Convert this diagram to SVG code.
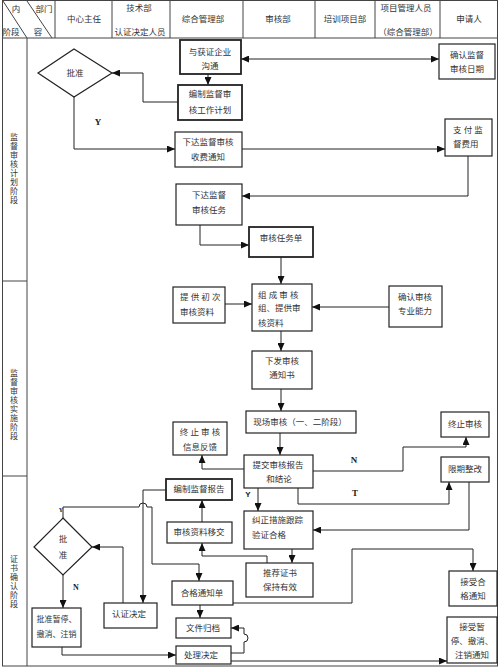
<svg xmlns="http://www.w3.org/2000/svg" width="500" height="669" viewBox="0 0 500 669">
<defs>
<marker id="ah" markerWidth="8" markerHeight="7" refX="8" refY="3.5" orient="auto-start-reverse" markerUnits="userSpaceOnUse">
<path d="M0,0 L8,3.5 L0,7 z" fill="#111"/>
</marker>
</defs>
<style>
text{font-family:"Liberation Serif","Noto Sans CJK SC",serif;font-size:8.5px;fill:#333;dominant-baseline:central}
.c{text-anchor:middle}
.box{fill:#fff;stroke:#222;stroke-width:1.2}
.thick{stroke-width:1.8}
.grid{stroke:#444;stroke-width:1;fill:none}
.ln{fill:none;stroke:#222;stroke-width:1}
.ar{marker-end:url(#ah)}
.lbl{font-weight:bold;font-size:9px;fill:#222}
.stage{font-size:8px;text-anchor:middle}
</style>
<rect width="500" height="669" fill="#fff"/>
<g id="table">
<rect class="grid" x="2.5" y="0.5" width="495" height="665.5"/>
<line class="grid" x1="2.5" y1="38" x2="497.5" y2="38"/>
<line class="grid" x1="55" y1="0.5" x2="55" y2="38"/>
<line class="grid" x1="112" y1="0.5" x2="112" y2="38"/>
<line class="grid" x1="170" y1="0.5" x2="170" y2="38"/>
<line class="grid" x1="243" y1="0.5" x2="243" y2="38"/>
<line class="grid" x1="315" y1="0.5" x2="315" y2="38"/>
<line class="grid" x1="375" y1="0.5" x2="375" y2="38"/>
<line class="grid" x1="440" y1="0.5" x2="440" y2="38"/>
<line class="grid" x1="3" y1="1" x2="27" y2="38"/>
<line class="grid" x1="27" y1="1" x2="52" y2="38"/>
<line class="grid" x1="27" y1="38" x2="27" y2="666"/>
<line class="grid" x1="2.5" y1="281" x2="27" y2="281"/>
<line class="grid" x1="2.5" y1="476" x2="27" y2="476"/>
<text class="c" x="16" y="9">内</text>
<text class="c" x="44" y="9">部门</text>
<text class="c" x="11" y="32">阶段</text>
<text class="c" x="38" y="32">容</text>
<text class="c" x="84" y="19">中心主任</text>
<text class="c" x="139" y="8">技术部</text>
<text class="c" x="140" y="32">认证决定人员</text>
<text class="c" x="203" y="19">综合管理部</text>
<text class="c" x="278" y="19">审核部</text>
<text class="c" x="345" y="19">培训项目部</text>
<text class="c" x="406" y="8">项目管理人员</text>
<text class="c" x="408" y="32">（综合管理部）</text>
<text class="c" x="469" y="19">申请人</text>
<text class="stage" x="14" y="137">监</text><text class="stage" x="14" y="146">督</text><text class="stage" x="14" y="155">审</text><text class="stage" x="14" y="164">核</text><text class="stage" x="14" y="173">计</text><text class="stage" x="14" y="182">划</text><text class="stage" x="14" y="191">阶</text><text class="stage" x="14" y="200">段</text>
<text class="stage" x="14" y="373">监</text><text class="stage" x="14" y="382">督</text><text class="stage" x="14" y="391">审</text><text class="stage" x="14" y="400">核</text><text class="stage" x="14" y="409">实</text><text class="stage" x="14" y="418">施</text><text class="stage" x="14" y="427">阶</text><text class="stage" x="14" y="436">段</text>
<text class="stage" x="14" y="559">证</text><text class="stage" x="14" y="568">书</text><text class="stage" x="14" y="577">确</text><text class="stage" x="14" y="586">认</text><text class="stage" x="14" y="595">阶</text><text class="stage" x="14" y="604">段</text>
</g>
<g id="connectors">
<path class="ln ar" style="marker-start:url(#ah)" d="M241,59 H439"/>
<path class="ln ar" d="M208,74 V85"/>
<path class="ln ar" d="M178,102 H143 V73 H112"/>
<path class="ln ar" d="M74,97 V149 H175"/>
<path class="ln ar" d="M242,149 H445"/>
<path class="ln ar" d="M468,156 V196 H242"/>
<path class="ln ar" d="M200,225 V245 H249"/>
<path class="ln ar" d="M281,257 V284"/>
<path class="ln ar" d="M225,304 H252"/>
<path class="ln ar" d="M389,307 H312"/>
<path class="ln ar" d="M281,331 V351"/>
<path class="ln ar" d="M281,389 V411"/>
<path class="ln ar" d="M280,433 V455"/>
<path class="ln ar" d="M244,469 H202 V455"/>
<path class="ln ar" d="M313,471 H403 V447 H466 V437"/>
<path class="ln ar" d="M298,488 V504 H449 V482"/>
<path class="ln ar" d="M469,482 V530 H313"/>
<path class="ln ar" d="M258,488 V511"/>
<path class="ln ar" d="M292,549 V563"/>
<path class="ln ar" d="M267,563 V556 H202 V543"/>
<path class="ln ar" d="M202,522 V500"/>
<path class="ln ar" d="M166,490 H143 V603"/>
<path class="ln ar" d="M63,518 V507 H139 A4,4 0 0 1 147,507 H152 V564 H199 V581"/>
<path class="ln ar" d="M123,603 V547 H92"/>
<path class="ln ar" d="M63,575 V608"/>
<path class="ln ar" d="M62,647 V655 H176"/>
<path class="ln ar" d="M200,605 V618"/>
<path class="ln ar" d="M231,653 H244 V642 A4,4 0 0 0 244,634 V628 H231"/>
<path class="ln ar" d="M231,661 H447"/>
<path class="ln ar" d="M233,603 H352 V549 H473 V571"/>
<text class="lbl" x="98" y="122" text-anchor="middle">Y</text>
<text class="lbl" x="354" y="460" text-anchor="middle">N</text>
<text class="lbl" x="355" y="493" text-anchor="middle">T</text>
<text class="lbl" x="248" y="494" text-anchor="middle" style="font-family:'Liberation Sans',sans-serif;font-size:8px">Y</text>
<text class="lbl" x="61" y="510" text-anchor="middle" style="font-size:6px">Y</text>
<text class="lbl" x="76" y="587" text-anchor="middle" style="font-size:8px">N</text>
</g>
<g id="n1"><rect class="box thick" x="180" y="40" width="61" height="34"/><text class="c" x="210" y="52">与获证企业</text><text class="c" x="210" y="66">沟通</text></g>
<g id="n2"><rect class="box" x="439" y="44" width="56" height="35"/><text class="c" x="467" y="55">确认监督</text><text class="c" x="467" y="69">审核日期</text></g>
<g id="n3"><rect class="box thick" x="178" y="85" width="64" height="35"/><text class="c" x="210" y="94">编制监督审</text><text class="c" x="210" y="110">核工作计划</text></g>
<g id="d1"><polygon class="box" points="74,49 112,73 74,97 38,73"/><text class="c" x="75" y="73">批准</text></g>
<g id="n4"><rect class="box" x="175" y="132" width="67" height="35"/><text class="c" x="208" y="142">下达监督审核</text><text class="c" x="208" y="157">收费通知</text></g>
<g id="n5"><rect class="box" x="445" y="119" width="47" height="37"/><text x="453" y="130">支 付 监</text><text x="453" y="144">督费用</text></g>
<g id="n6"><rect class="box" x="176" y="184" width="66" height="41"/><text class="c" x="209" y="195">下达监督</text><text class="c" x="209" y="210">审核任务</text></g>
<g id="n7"><rect class="box thick" x="249" y="227" width="64" height="30"/><text class="c" x="281" y="238">审核任务单</text></g>
<g id="n8"><rect class="box" x="252" y="284" width="60" height="47"/><text x="258" y="295">组 成 审 核</text><text x="258" y="308">组、提供审</text><text x="258" y="323">核资料</text></g>
<g id="n9"><rect class="box" x="173" y="287" width="52" height="36"/><text x="180" y="297">提 供 初 次</text><text x="180" y="312">审核资料</text></g>
<g id="n10"><rect class="box" x="389" y="286" width="53" height="41"/><text class="c" x="415" y="297">确认审核</text><text class="c" x="415" y="311">专业能力</text></g>
<g id="n11"><rect class="box" x="252" y="351" width="60" height="38"/><text class="c" x="282" y="361">下发审核</text><text class="c" x="282" y="375">通知书</text></g>
<g id="n12"><rect class="box" x="246" y="411" width="110" height="22"/><text class="c" x="300" y="422">现场审核（一、二阶段）</text></g>
<g id="n13"><rect class="box" x="244" y="455" width="69" height="33"/><text class="c" x="278" y="465">提交审核报告</text><text class="c" x="279" y="479">和结论</text></g>
<g id="n14"><rect class="box" x="173" y="422" width="54" height="33"/><text class="c" x="200" y="432">终 止 审 核</text><text class="c" x="200" y="447">信息反馈</text></g>
<g id="n15"><rect class="box" x="441" y="412" width="48" height="25"/><text class="c" x="465" y="424">终止审核</text></g>
<g id="n16"><rect class="box" x="441" y="457" width="48" height="25"/><text class="c" x="465" y="469">限期整改</text></g>
<g id="n17"><rect class="box" x="244" y="511" width="69" height="38"/><text x="252" y="520">纠正措施跟踪</text><text x="252" y="535">验证合格</text></g>
<g id="n18"><rect class="box thick" x="166" y="479" width="66" height="21"/><text class="c" x="199" y="489">编制监督报告</text></g>
<g id="n19"><rect class="box" x="167" y="522" width="65" height="21"/><text class="c" x="199" y="532">审核资料移交</text></g>
<g id="n20"><rect class="box" x="246" y="563" width="67" height="34"/><text class="c" x="280" y="573">推荐证书</text><text class="c" x="280" y="587">保持有效</text></g>
<g id="n21"><rect class="box" x="172" y="581" width="61" height="24"/><text class="c" x="202" y="593">合格通知单</text></g>
<g id="d2"><polygon class="box" points="63,518 92,547 63,575 34,547"/><text class="c" x="63" y="539">批</text><text class="c" x="63" y="555">准</text></g>
<g id="n22"><rect class="box" x="32" y="608" width="49" height="39"/><text class="c" x="56.5" y="619" style="font-size:8px">批准暂停、</text><text class="c" x="56.5" y="634" style="font-size:8px">撤消、注销</text></g>
<g id="n23"><rect class="box" x="104" y="603" width="53" height="25"/><text x="112" y="614">认证决定</text></g>
<g id="n24"><rect class="box" x="176" y="618" width="55" height="20"/><text class="c" x="203" y="628">文件归档</text></g>
<g id="n25"><rect class="box" x="176" y="646" width="55" height="18"/><text class="c" x="201" y="655">处理决定</text></g>
<g id="n26"><rect class="box" x="449" y="571" width="48" height="35"/><text class="c" x="473" y="582">接受合</text><text class="c" x="473" y="596">格通知</text></g>
<g id="n27"><rect class="box" x="447" y="617" width="50" height="46"/><text class="c" x="472" y="627">接受暂</text><text class="c" x="472" y="641">停、撤消、</text><text class="c" x="472" y="655">注销通知</text></g>
</svg>
